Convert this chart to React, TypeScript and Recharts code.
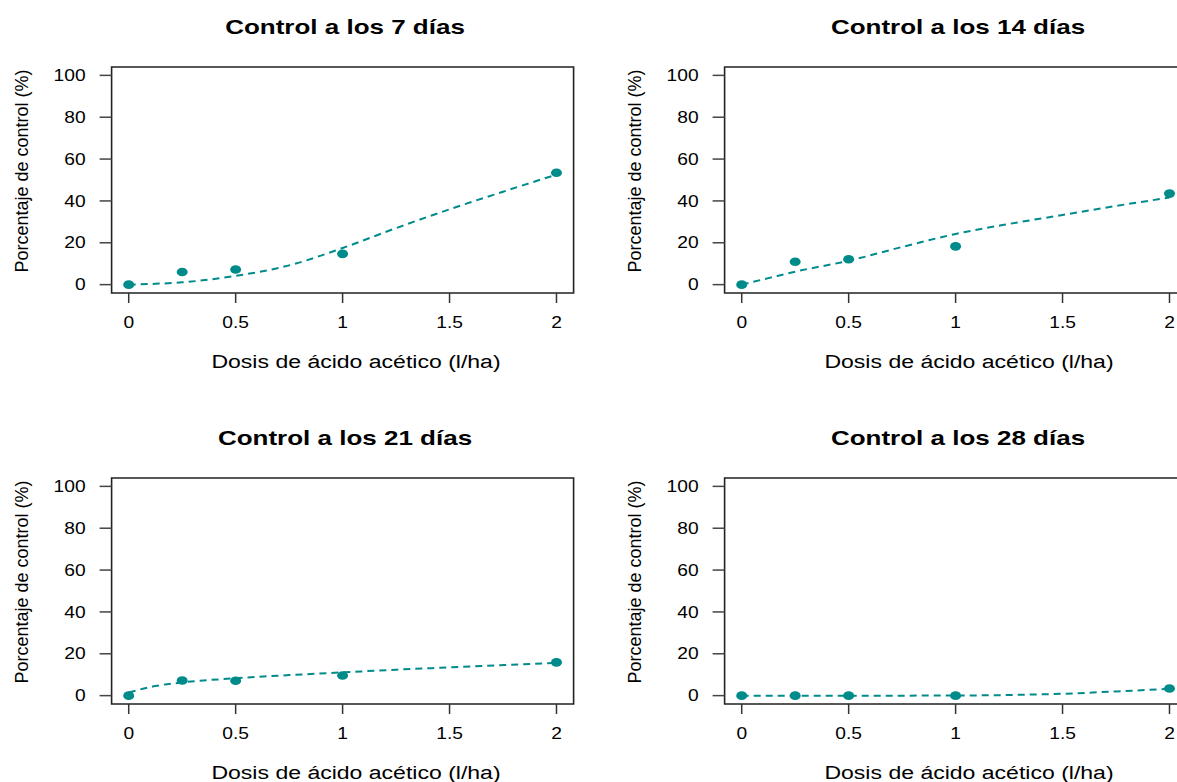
import React from "react";
import {
  ComposedChart,
  Line,
  Scatter,
  XAxis,
  YAxis,
  ReferenceArea,
} from "recharts";

// observed doses (l/ha) and control (%) per evaluation date
const doses = [0, 0.25, 0.5, 1, 2];
const control7 = [0, 6, 7.2, 14.7, 53.5];
const control14 = [0, 10.9, 12.1, 18.3, 43.5];
const control21 = [0, 7.2, 7.1, 9.6, 15.9];
const control28 = [0, 0, 0, 0, 3.4];

// fitted curve
const curveDoses = [0, 0.125, 0.25, 0.5, 0.75, 1, 1.25, 1.5, 1.75, 2];
const fit7 = [0, 0.4, 1.1, 4.2, 9.2, 17.5, 27, 36, 44.4, 52.6];
const fit14 = [0, 3.1, 6.2, 11.4, 18, 24.2, 29, 33.3, 37.6, 41.6];
const fit21 = [1.5, 4.6, 6.3, 8.3, 9.8, 11.1, 12.4, 13.5, 14.6, 15.6];
const fit28 = [0, 0, 0, 0, 0, 0.05, 0.3, 0.9, 2, 3.3];

const titles = [
  "Control a los 7 días",
  "Control a los 14 días",
  "Control a los 21 días",
  "Control a los 28 días",
];

const xTicks = [0, 0.5, 1, 1.5, 2];
const yTicks = [0, 20, 40, 60, 80, 100];
const xLabel = "Dosis de ácido acético (l/ha)";
const yLabel = "Porcentaje de control (%)";

const TEAL = "#008B8B";
const FONT = "'Liberation Sans', Arial, Helvetica, sans-serif";
const PANEL_W = 613;
const PANEL_H = 411;

const XTick = (props: any) => {
  const { x, y, payload } = props;
  return (
    <g transform={`translate(${x},${y}) scale(1.2,1)`}>
      <text x={0} y={23} textAnchor="middle" fontSize={16} fontFamily={FONT} fill="#000">
        {payload.value}
      </text>
    </g>
  );
};

const YTick = (props: any) => {
  const { x, y, payload } = props;
  return (
    <g transform={`translate(${x},${y}) scale(1.2,1)`}>
      <text x={0} y={5.7} textAnchor="end" fontSize={16} fontFamily={FONT} fill="#000">
        {payload.value}
      </text>
    </g>
  );
};

const Dot = (props: any) => {
  const { cx, cy } = props;
  if (cx == null || cy == null) return null;
  return <ellipse cx={cx} cy={cy} rx={5.5} ry={4.3} fill={TEAL} />;
};

function Panel({ title, obs, fit }: { title: string; obs: number[]; fit: number[] }) {
  const points = doses.map((d, i) => ({ x: d, y: obs[i] }));
  const curve = curveDoses.map((d, i) => ({ x: d, y: fit[i] }));

  return (
    <div style={{ position: "relative", width: PANEL_W, height: PANEL_H }}>
      <ComposedChart
        width={PANEL_W}
        height={PANEL_H}
        margin={{ top: 67, right: 39.4, bottom: 78, left: 0 }}
      >
        <XAxis
          type="number"
          dataKey="x"
          domain={[-0.08, 2.08]}
          ticks={xTicks}
          allowDataOverflow
          axisLine={false}
          tickLine={{ stroke: "#333", strokeWidth: 1.5 }}
          tickSize={10}
          tickMargin={2}
          height={40}
          tick={<XTick />}
          interval={0}
        />
        <YAxis
          type="number"
          dataKey="y"
          domain={[-4, 104]}
          ticks={yTicks}
          allowDataOverflow
          axisLine={false}
          tickLine={{ stroke: "#444", strokeWidth: 1.5 }}
          tickSize={12}
          tickMargin={14}
          width={111.6}
          tick={<YTick />}
          interval={0}
        />
        <ReferenceArea
          x1={-0.08}
          x2={2.08}
          y1={-4}
          y2={104}
          fill="none"
          fillOpacity={0}
          stroke="#222"
          strokeWidth={1.6}
          ifOverflow="visible"
        />
        <Line
          data={curve}
          dataKey="y"
          type="monotone"
          stroke={TEAL}
          strokeWidth={2}
          strokeDasharray="7 5"
          dot={false}
          activeDot={false}
          isAnimationActive={false}
        />
        <Scatter data={points} dataKey="y" shape={<Dot />} isAnimationActive={false} />
      </ComposedChart>
      <svg
        width={PANEL_W}
        height={PANEL_H}
        style={{ position: "absolute", left: 0, top: 0, pointerEvents: "none" }}
      >
        <g transform="translate(345,34) scale(1.3,1)">
          <text textAnchor="middle" fontSize={20} fontWeight="bold" fontFamily={FONT} fill="#000">
            {title}
          </text>
        </g>
        <g transform="translate(356,368) scale(1.28,1)">
          <text textAnchor="middle" fontSize={18} fontFamily={FONT} fill="#000">
            {xLabel}
          </text>
        </g>
        <text
          transform="translate(28,171) rotate(-90)"
          textAnchor="middle"
          fontSize={18}
          fontFamily={FONT}
          fill="#000"
        >
          {yLabel}
        </text>
      </svg>
    </div>
  );
}

export default function App() {
  const series = [
    { obs: control7, fit: fit7 },
    { obs: control14, fit: fit14 },
    { obs: control21, fit: fit21 },
    { obs: control28, fit: fit28 },
  ];
  return (
    <div
      style={{
        position: "absolute",
        left: 0,
        top: 0,
        width: 1177,
        height: 782,
        overflow: "hidden",
        background: "#fff",
      }}
    >
      {series.map((s, i) => (
        <div
          key={titles[i]}
          style={{
            position: "absolute",
            left: (i % 2) * PANEL_W,
            top: Math.floor(i / 2) * PANEL_H,
          }}
        >
          <Panel title={titles[i]} obs={s.obs} fit={s.fit} />
        </div>
      ))}
    </div>
  );
}
